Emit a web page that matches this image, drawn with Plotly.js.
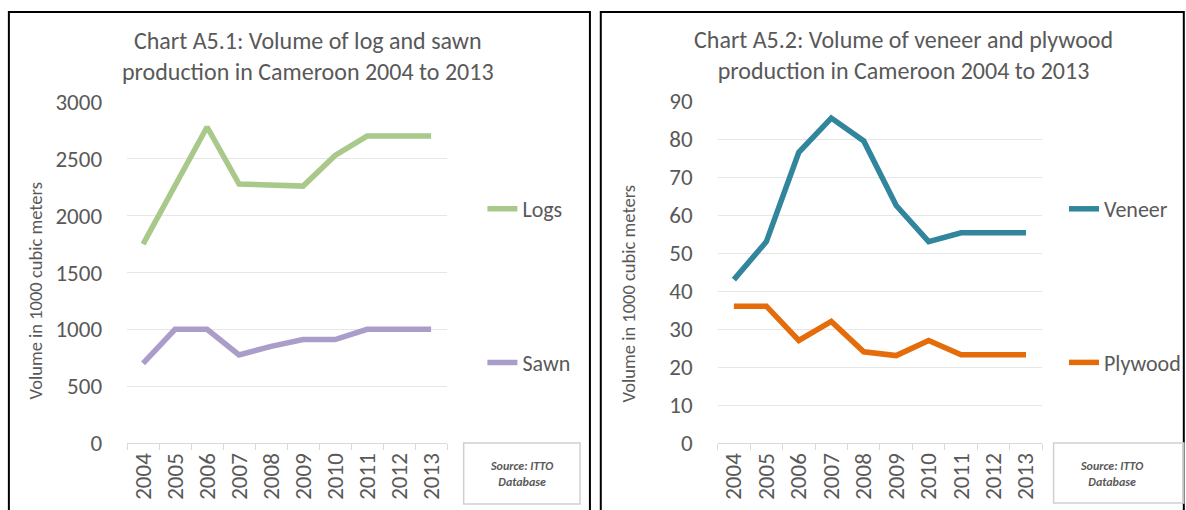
<!DOCTYPE html>
<html>
<head>
<meta charset="utf-8">
<script src="https://cdn.plot.ly/plotly-3.0.1.min.js"></script>
<style>
html,body{margin:0;padding:0;background:#fff;}
#chart{width:1186px;height:510px;}
</style>
</head>
<body>
<div id="chart"></div>
<script>
// ---- data ----
const years = ['2004','2005','2006','2007','2008','2009','2010','2011','2012','2013'];
const logs = [1750, 2265, 2780, 2278, 2265, 2260, 2530, 2700, 2700, 2700];
const sawn = [700, 1000, 1000, 775, 850, 910, 910, 1000, 1000, 1000];
const veneer = [43, 53, 76.5, 85.5, 79.5, 62.5, 53, 55.3, 55.3, 55.3];
const plywood = [36, 36, 27, 32, 24, 23, 27, 23.2, 23.2, 23.2];
const leftTicks = [0, 500, 1000, 1500, 2000, 2500, 3000];
const rightTicks = [0, 10, 20, 30, 40, 50, 60, 70, 80, 90];
const titleLeft = 'Chart A5.1: Volume of log and sawn<br>production in Cameroon 2004 to 2013';
const titleRight = 'Chart A5.2: Volume of veneer and plywood<br>production in Cameroon 2004 to 2013';
const yTitle = 'Volume in 1000 cubic meters';
const sourceText = '<b><i>Source: ITTO<br>Database</i></b>';

// ---- layout helpers (pixel -> paper) ----
const W = 1186, H = 510;
const px = v => v / W;
const py = v => 1 - v / H;
const FONT = 'Carlito, Calibri, Lato, sans-serif';
const GREY = '#595959';

const lineW = 5.5;
const traces = [
  {x: years, y: logs, name: 'Logs', type: 'scatter', mode: 'lines', xaxis: 'x', yaxis: 'y',
   line: {color: '#A9C98B', width: lineW}, legend: 'legend', legendgroup: 'a'},
  {x: years, y: sawn, name: 'Sawn', type: 'scatter', mode: 'lines', xaxis: 'x', yaxis: 'y',
   line: {color: '#AB9DC9', width: lineW}, legend: 'legend', legendgroup: 'b'},
  {x: years, y: veneer, name: 'Veneer', type: 'scatter', mode: 'lines', xaxis: 'x2', yaxis: 'y2',
   line: {color: '#31859C', width: lineW}, legend: 'legend2', legendgroup: 'c'},
  {x: years, y: plywood, name: 'Plywood', type: 'scatter', mode: 'lines', xaxis: 'x2', yaxis: 'y2',
   line: {color: '#E46C0A', width: lineW}, legend: 'legend2', legendgroup: 'd'}
];

function xax(domain) {
  return {
    domain: domain, type: 'category', range: [-0.5, 9.5], tickson: 'boundaries', ticks: 'outside', ticklen: 6,
    tickcolor: '#D9D9D9', showline: true, linecolor: '#D9D9D9', linewidth: 1,
    showgrid: false, tickangle: -90, zeroline: false,
    tickfont: {family: FONT, size: 23, color: GREY}, fixedrange: true
  };
}
function yax(domain, range, ticks, anchor) {
  return {
    domain: domain, range: range, tickvals: ticks, ticktext: ticks.map(String),
    showgrid: true, gridcolor: '#E6E6E6', gridwidth: 1, zeroline: false, showline: false,
    ticks: '', ticklabelstandoff: 24, anchor: anchor,
    tickfont: {family: FONT, size: 23, color: GREY}, fixedrange: true
  };
}

const layout = {
  width: W, height: H, margin: {l: 0, r: 0, t: 0, b: 0},
  paper_bgcolor: '#fff', plot_bgcolor: '#fff', showlegend: true,
  xaxis: Object.assign(xax([px(128.8), px(453.2)]), {anchor: 'y'}),
  yaxis: yax([py(443), py(102)], [0, 3000], leftTicks, 'x'),
  xaxis2: Object.assign(xax([px(727.5), px(1056.5)]), {anchor: 'y2'}),
  yaxis2: yax([py(443), py(101)], [0, 90], rightTicks, 'x2'),
  legend: {x: px(489), y: py(188), xanchor: 'left', yanchor: 'top', tracegroupgap: 122,
           font: {family: FONT, size: 22, color: GREY}, bgcolor: 'rgba(0,0,0,0)', itemwidth: 30},
  legend2: {x: px(1079), y: py(188), xanchor: 'left', yanchor: 'top', tracegroupgap: 122,
           font: {family: FONT, size: 22, color: GREY}, bgcolor: 'rgba(0,0,0,0)', itemwidth: 30},
  shapes: [
    {type: 'rect', xref: 'paper', yref: 'paper', x0: px(9), x1: px(598), y0: py(12), y1: py(540),
     line: {color: '#000', width: 2}},
    {type: 'rect', xref: 'paper', yref: 'paper', x0: px(609), x1: px(1200), y0: py(12), y1: py(540),
     line: {color: '#000', width: 2}},
    {type: 'rect', xref: 'paper', yref: 'paper', x0: px(470), x1: px(588), y0: py(443), y1: py(504),
     line: {color: '#D0D0D0', width: 1.5}},
    {type: 'rect', xref: 'paper', yref: 'paper', x0: px(1068), x1: px(1200), y0: py(443), y1: py(503),
     line: {color: '#D0D0D0', width: 1.5}}
  ],
  annotations: [
    {text: titleLeft, xref: 'paper', yref: 'paper', x: px(312), y: py(56), xanchor: 'center', yanchor: 'middle',
     showarrow: false, font: {family: FONT, size: 24, color: GREY}},
    {text: titleRight, xref: 'paper', yref: 'paper', x: px(916), y: py(55), xanchor: 'center', yanchor: 'middle',
     showarrow: false, font: {family: FONT, size: 24, color: GREY}},
    {text: yTitle, xref: 'paper', yref: 'paper', x: px(35), y: py(291), textangle: -90,
     xanchor: 'center', yanchor: 'middle', showarrow: false, font: {family: FONT, size: 18.5, color: GREY}},
    {text: yTitle, xref: 'paper', yref: 'paper', x: px(637), y: py(294), textangle: -90,
     xanchor: 'center', yanchor: 'middle', showarrow: false, font: {family: FONT, size: 18.5, color: GREY}},
    {text: sourceText, xref: 'paper', yref: 'paper', x: px(529), y: py(474), xanchor: 'center', yanchor: 'middle',
     showarrow: false, font: {family: FONT, size: 12, color: GREY}},
    {text: sourceText, xref: 'paper', yref: 'paper', x: px(1127), y: py(474), xanchor: 'center', yanchor: 'middle',
     showarrow: false, font: {family: FONT, size: 12, color: GREY}}
  ]
};

Plotly.newPlot('chart', traces, layout, {displayModeBar: false, staticPlot: true});
</script>
</body>
</html>
